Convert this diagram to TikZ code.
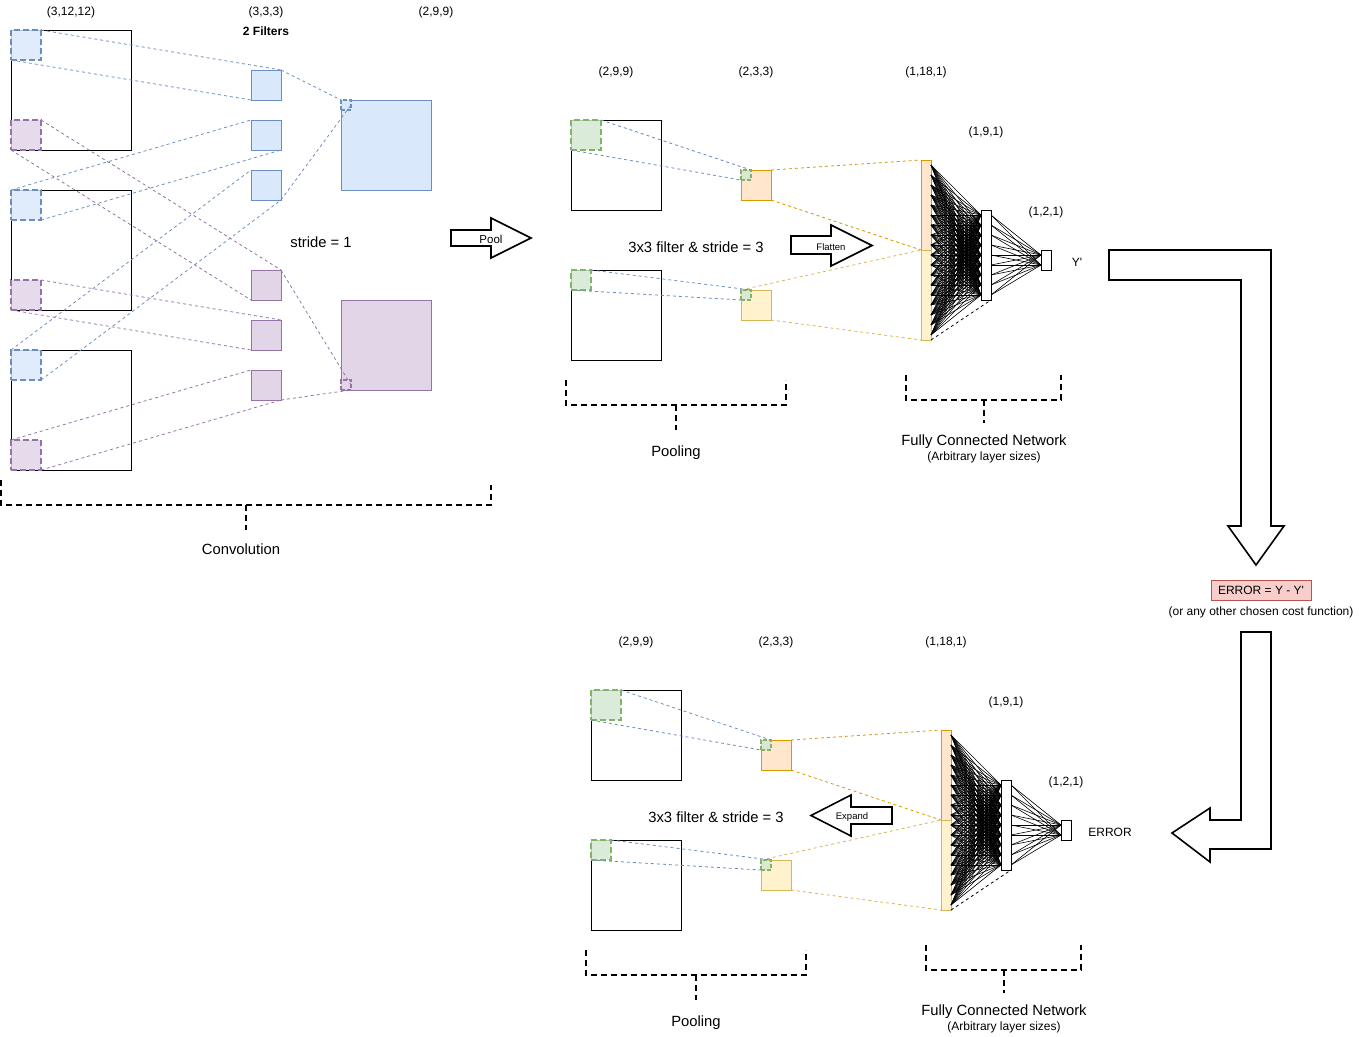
\documentclass[tikz,border=0pt]{standalone}
\usepackage{fontspec}
\setmainfont{Liberation Sans}
\newfontfamily\qfont{Liberation Sans}
\usetikzlibrary{calc}
\definecolor{bluefill}{HTML}{DAE8FC}
\definecolor{bluestroke}{HTML}{6C8EBF}
\definecolor{purpfill}{HTML}{E1D5E7}
\definecolor{purpstroke}{HTML}{9673A6}
\definecolor{greenfill}{HTML}{D5E8D4}
\definecolor{greenstroke}{HTML}{82B366}
\definecolor{orfill}{HTML}{FFE6CC}
\definecolor{orstroke}{HTML}{D79B00}
\definecolor{yelfill}{HTML}{FFF2CC}
\definecolor{yelstroke}{HTML}{D6B656}
\definecolor{redfill}{HTML}{F8CECC}
\definecolor{redstroke}{HTML}{B85450}
\tikzset{
  rbox/.style={draw=black, line width=1pt, inner sep=0pt, outer sep=0pt, anchor=north west},
  cell/.style={inner sep=0pt, outer sep=0pt, anchor=north west, line width=1pt},
  bluesq/.style={cell, draw=bluestroke, fill=bluefill},
  purpsq/.style={cell, draw=purpstroke, fill=purpfill},
  orsq/.style={cell, draw=orstroke, fill=orfill},
  yelsq/.style={cell, draw=yelstroke, fill=yelfill},
  whsq/.style={cell, draw=black, fill=white},
  patchbox/.style={inner sep=0pt, outer sep=0pt, anchor=north west, line width=2pt, dash pattern=on 6pt off 3pt, fill opacity=0.85},
  bluepatch/.style={patchbox, draw=bluestroke, fill=bluefill},
  purppatch/.style={patchbox, draw=purpstroke, fill=purpfill},
  greenpatch/.style={patchbox, draw=greenstroke, fill=greenfill},
  smallpatch/.style={line width=1.4pt, dash pattern=on 4pt off 2pt},
  linkline/.style={line width=0.8pt, dash pattern=on 3pt off 3pt},
  bluelink/.style={linkline, draw=bluestroke},
  purplink/.style={linkline, draw=purpstroke},
  orlink/.style={linkline, draw=orstroke},
  yellink/.style={linkline, draw=yelstroke},
  fcline/.style={line width=0.6pt, draw=black},
  brk/.style={line width=1.5pt, dash pattern=on 6pt off 4pt, draw=black},
  blockarrow/.style={draw=black, line width=1.6pt, fill=white, line join=miter},
  lbl/.style={inner sep=0pt, font=\fontsize{12}{14}\selectfont},
  lblbold/.style={inner sep=0pt, font=\fontsize{12}{14}\selectfont\bfseries},
  bigtxt/.style={inner sep=0pt, font=\fontsize{14.8}{17}\selectfont},
  smalltxt/.style={inner sep=0pt, font=\fontsize{9.5}{11}\selectfont},
}
\newcommand\poolfc[1]{%
  % pooling inputs
  \node[rbox, minimum size=90pt] (#1A) at (571,120) {};
  \node[rbox, minimum size=90pt] (#1B) at (571,270) {};
  \node[orsq, minimum size=30pt] (#1O) at (741,170) {};
  \node[yelsq, minimum size=30pt] (#1Y) at (741,290) {};
  % fc layers
  \node[orsq, minimum width=10pt, minimum height=90pt] (#1La) at (921,160) {};
  \node[yelsq, minimum width=10pt, minimum height=90pt] (#1Lb) at (921,250) {};
  \foreach \i in {0,...,17} \coordinate (#1a\i) at (931,{165+10*\i});
  \foreach \j in {0,...,8} {
    \coordinate (#1b\j) at (981,{215+10*\j});
    \coordinate (#1c\j) at (991,{215+10*\j});
  }
  \coordinate (#1d0) at (1041,255);
  \coordinate (#1d1) at (1041,265);
  \foreach \i in {0,...,17} \foreach \j in {0,...,8} \draw[fcline] (#1a\i) -- (#1b\j);
  \foreach \j in {0,...,8} \foreach \k in {0,1} \draw[fcline] (#1c\j) -- (#1d\k);
  \node[whsq, minimum width=10pt, minimum height=90pt] (#1L2) at (981,210) {};
  \node[whsq, minimum width=10pt, minimum height=20pt] (#1L3) at (1041,250) {};
  \draw[linkline, draw=black] (#1Lb.south east) -- (#1L2.south east);
  % patches
  \node[greenpatch, minimum size=30pt] (#1pA) at (571,120) {};
  \node[greenpatch, minimum size=20pt] (#1pB) at (571,270) {};
  \node[greenpatch, smallpatch, minimum size=10pt] (#1gO) at (741,170) {};
  \node[greenpatch, smallpatch, minimum size=10pt] (#1gY) at (741,290) {};
  % links
  \draw[bluelink] (#1pA.north east) -- (#1gO.north east);
  \draw[bluelink] (#1pA.south west) -- (#1gO.south west);
  \draw[bluelink] (#1pB.north east) -- (#1gY.north east);
  \draw[bluelink] (#1pB.south west) -- (#1gY.south west);
  \draw[orlink] (#1O.north east) -- (#1La.north west);
  \draw[orlink] (#1O.south east) -- (#1La.south west);
  \draw[yellink] (#1Y.north west) -- (#1Lb.north west);
  \draw[yellink] (#1Y.south east) -- (#1Lb.south west);
  % labels
  \node[lbl] (#1t1) at (616,72) {(2,9,9)};
  \node[lbl] (#1t2) at (756,72) {(2,3,3)};
  \node[lbl] (#1t3) at (926,72) {(1,18,1)};
  \node[lbl] (#1t4) at (986,132) {(1,9,1)};
  \node[lbl] (#1t5) at (1046,212) {(1,2,1)};
  \node[bigtxt] (#1t6) at (696,247) {3x3 filter \& stride = 3};
  % brackets
  \draw[brk] (566,380) -- (566,405) -- (786,405) -- (786,380);
  \draw[brk] (676,405) -- (676,430);
  \node[bigtxt] (#1t7) at (676,452.5) {Pooling};
  \draw[brk] (906,375) -- (906,400) -- (1061,400) -- (1061,375);
  \draw[brk] (984,400) -- (984,423);
  \node[bigtxt] (#1t8) at (984,442) {Fully Connected Network};
  \node[lbl] (#1t9) at (984,457) {(Arbitrary layer sizes)};
}
\begin{document}
\begin{tikzpicture}[x=1pt,y=-1pt]
\useasboundingbox (0,0) rectangle (1362,1036);
% ---------- convolution ----------
\node[rbox, minimum size=120pt] (in1) at (11,30) {};
\node[rbox, minimum size=120pt] (in2) at (11,190) {};
\node[rbox, minimum size=120pt] (in3) at (11,350) {};
\node[bluesq, minimum size=30pt] (f1) at (251,70) {};
\node[bluesq, minimum size=30pt] (f2) at (251,120) {};
\node[bluesq, minimum size=30pt] (f3) at (251,170) {};
\node[purpsq, minimum size=30pt] (f4) at (251,270) {};
\node[purpsq, minimum size=30pt] (f5) at (251,320) {};
\node[purpsq, minimum size=30pt] (f6) at (251,370) {};
\node[bluesq, minimum size=90pt] (ob) at (341,100) {};
\node[purpsq, minimum size=90pt] (op) at (341,300) {};
\node[bluepatch, minimum size=30pt] (p1b) at (11,30) {};
\node[purppatch, minimum size=30pt] (p1p) at (11,120) {};
\node[bluepatch, minimum size=30pt] (p2b) at (11,190) {};
\node[purppatch, minimum size=30pt] (p2p) at (11,280) {};
\node[bluepatch, minimum size=30pt] (p3b) at (11,350) {};
\node[purppatch, minimum size=30pt] (p3p) at (11,440) {};
\node[bluepatch, smallpatch, minimum size=10pt] (obp) at (341,100) {};
\node[purppatch, smallpatch, minimum size=10pt] (opp) at (341,380) {};
\draw[bluelink] (p1b.north east) -- (f1.north east);
\draw[bluelink] (p1b.south west) -- (f1.south west);
\draw[bluelink] (p2b.north west) -- (f2.north west);
\draw[bluelink] (p2b.south east) -- (f2.south east);
\draw[bluelink] (p3b.north west) -- (f3.north west);
\draw[bluelink] (p3b.south east) -- (f3.south east);
\draw[bluelink] (f1.north east) -- (obp.north west);
\draw[bluelink] (f3.south east) -- (obp.east);
\draw[purplink] (p1p.north east) -- (f4.north east);
\draw[purplink] (p1p.south west) -- (f4.south west);
\draw[purplink] (p2p.north east) -- (f5.north east);
\draw[purplink] (p2p.south west) -- (f5.south west);
\draw[purplink] (p3p.north west) -- (f6.north west);
\draw[purplink] (p3p.south east) -- (f6.south east);
\draw[purplink] (f4.north east) -- (opp.east);
\draw[purplink] (f6.south east) -- (opp.south east);
\node[lbl] (c1) at (71,12) {(3,12,12)};
\node[lbl] (c2) at (266,12) {(3,3,3)};
\node[lblbold] (c3) at (266,31.5) {2 Filters};
\node[lbl] (c4) at (436,12) {(2,9,9)};
\node[bigtxt] (c5) at (321,242) {stride = 1};
\draw[brk] (1,480) -- (1,505) -- (491,505) -- (491,485);
\draw[brk] (246,505) -- (246,530);
\node[bigtxt] (c6) at (241,549.5) {Convolution};
% pool arrow
\draw[blockarrow] (451,230) -- (491,230) -- (491,218) -- (531,238) -- (491,258) -- (491,246) -- (451,246) -- cycle;
\node[lbl, font=\fontsize{11.5}{13}\selectfont] (poolt) at (491,239) {Pool};
% ---------- top pooling / fc ----------
\poolfc{u}
\node[lbl] (yp) at (1077,262) {\qfont Y'};
\draw[blockarrow] (791,236) -- (831,236) -- (831,225) -- (872,245.5) -- (831,266) -- (831,254) -- (791,254) -- cycle;
\node[smalltxt] (flt) at (831,247) {Flatten};
% ---------- bottom pooling / fc ----------
\begin{scope}[shift={(20,570)}]
\poolfc{w}
\end{scope}
\node[lbl] (errt) at (1110,832) {ERROR};
\draw[blockarrow] (892,807) -- (851,807) -- (851,795) -- (811,815.5) -- (851,836) -- (851,824) -- (892,824) -- cycle;
\node[smalltxt] (exp) at (852,817) {Expand};
% ---------- right side ----------
\draw[blockarrow] (1109,250) -- (1271,250) -- (1271,526) -- (1284,526) -- (1256,565) -- (1228,526) -- (1241,526) -- (1241,280) -- (1109,280) -- cycle;
\node[cell, draw=redstroke, fill=redfill, minimum width=100pt, minimum height=20pt] (errbox) at (1211,580) {};
\node[lbl] (errtxt) at ([yshift=-0.5pt]errbox.center) {\qfont ERROR = Y - Y'};
\node[lbl] (costtxt) at (1261,612) {(or any other chosen cost function)};
\draw[blockarrow] (1241,632) -- (1271,632) -- (1271,849) -- (1210,849) -- (1210,862) -- (1172,833) -- (1210,808) -- (1210,820) -- (1241,820) -- cycle;
\end{tikzpicture}
\end{document}
